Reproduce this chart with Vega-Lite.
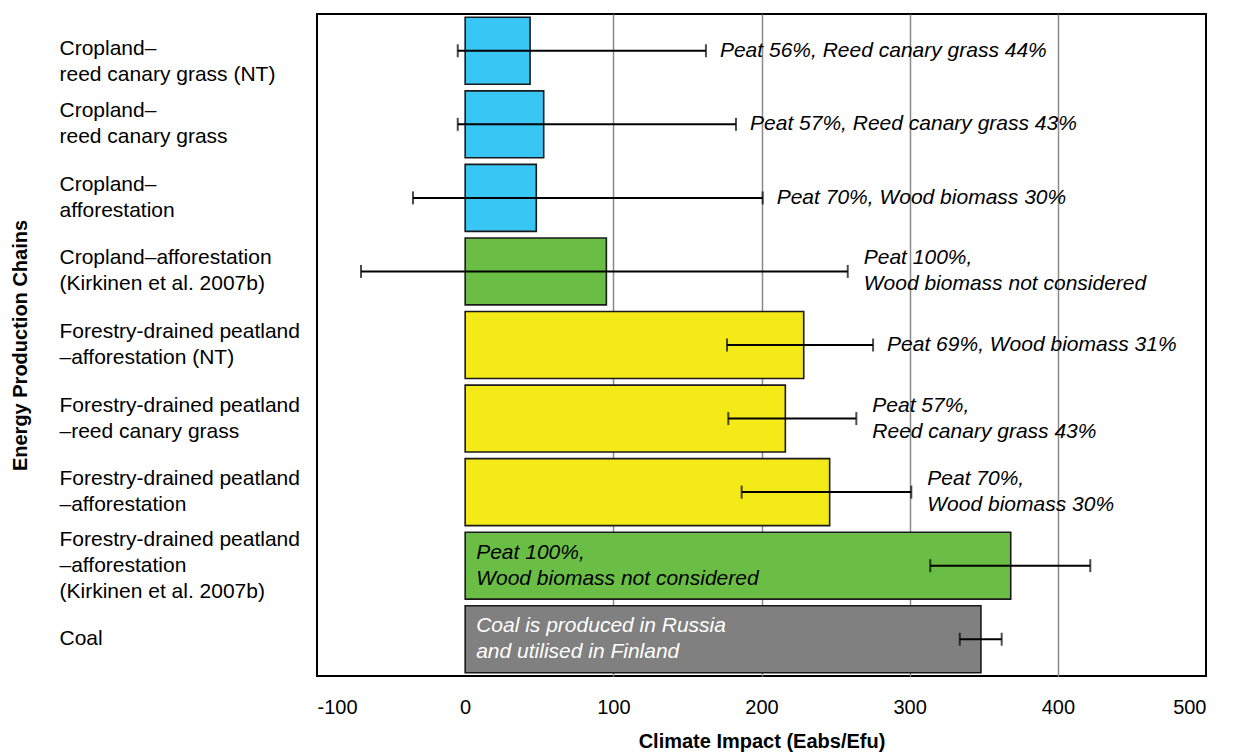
{
  "$schema": "https://vega.github.io/schema/vega-lite/v6.json",
  "width": 889,
  "height": 662,
  "autosize": {"type": "none"},
  "padding": {"left": 317, "top": 14, "right": 31, "bottom": 78},
  "background": "white",
  "config": {
    "font": "Liberation Sans",
    "view": {"stroke": "black", "strokeWidth": 2}
  },
  "data": {
    "values": [
      {"chain": "Cropland–\nreed canary grass (NT)", "group": "Cropland", "impact": 43.8, "lo": -5.0, "hi": 162.5, "note": "Peat 56%, Reed canary grass 44%"},
      {"chain": "Cropland–\nreed canary grass", "group": "Cropland", "impact": 53.0, "lo": -5.0, "hi": 182.8, "note": "Peat 57%, Reed canary grass 43%"},
      {"chain": "Cropland–\nafforestation", "group": "Cropland", "impact": 48.0, "lo": -35.2, "hi": 200.8, "note": "Peat 70%, Wood biomass 30%"},
      {"chain": "Cropland–afforestation\n(Kirkinen et al. 2007b)", "group": "Kirkinen et al. 2007b", "impact": 95.3, "lo": -70.3, "hi": 258.2, "note": "Peat 100%,\nWood biomass not considered"},
      {"chain": "Forestry-drained peatland\n–afforestation (NT)", "group": "Forestry-drained peatland", "impact": 228.5, "lo": 176.7, "hi": 275.3, "note": "Peat 69%, Wood biomass 31%"},
      {"chain": "Forestry-drained peatland\n–reed canary grass", "group": "Forestry-drained peatland", "impact": 216.1, "lo": 177.6, "hi": 264.0, "note": "Peat 57%,\nReed canary grass 43%"},
      {"chain": "Forestry-drained peatland\n–afforestation", "group": "Forestry-drained peatland", "impact": 246.0, "lo": 186.6, "hi": 301.1, "note": "Peat 70%,\nWood biomass 30%"},
      {"chain": "Forestry-drained peatland\n–afforestation\n(Kirkinen et al. 2007b)", "group": "Kirkinen et al. 2007b", "impact": 368.2, "lo": 313.9, "hi": 421.9, "inner": "Peat 100%,\nWood biomass not considered"},
      {"chain": "Coal", "group": "Coal", "impact": 348.1, "lo": 333.8, "hi": 362.1, "inner": "Coal is produced in Russia\nand utilised in Finland"}
    ]
  },
  "encoding": {
    "y": {
      "field": "chain",
      "type": "nominal",
      "sort": null,
      "scale": {"paddingInner": 0.09, "paddingOuter": 0.045},
      "axis": {
        "title": "Energy Production Chains",
        "titleFont": "Liberation Sans",
        "titleFontSize": 20,
        "titleFontWeight": "bold",
        "titleColor": "black",
        "titleAngle": -90,
        "titleX": -297,
        "titleY": 331,
        "titleAlign": "center",
        "titleBaseline": "middle",
        "labelAlign": "left",
        "labelBaseline": "middle",
        "labelPadding": 258,
        "labelFontSize": 21,
        "labelLineHeight": 26,
        "labelColor": "black",
        "labelLimit": 400,
        "labelExpr": "split(datum.label, '\\n')",
        "labelOffset": {
          "condition": [
            {"test": "indexof(datum.label, 'Cropland') == 0 && indexof(datum.label, '(NT)') > 0", "value": -2},
            {"test": "length(split(datum.label, '\\n')) == 3", "value": -26},
            {"test": "length(split(datum.label, '\\n')) == 2", "value": -13}
          ],
          "value": 0
        },
        "ticks": false,
        "tickSize": 0,
        "domain": false,
        "grid": false
      }
    }
  },
  "layer": [
    {
      "mark": {"type": "bar", "stroke": "#1a1a1a", "strokeWidth": 1.6},
      "encoding": {
        "x": {
          "field": "impact",
          "type": "quantitative",
          "scale": {"domain": [-100, 500], "nice": false, "zero": false},
          "axis": {
            "values": [-100, 0, 100, 200, 300, 400, 500],
            "labelExpr": "'' + datum.value",
            "title": "Climate Impact (Eabs/Efu)",
            "titleFontSize": 20,
            "titleFontWeight": "bold",
            "titleColor": "black",
            "titleBaseline": "middle",
            "titleY": 65,
            "labelFontSize": 20,
            "labelColor": "black",
            "labelBaseline": "middle",
            "labelPadding": 31,
            "ticks": false,
            "tickSize": 0,
            "domain": false,
            "grid": true,
            "gridWidth": 1.5,
            "gridColor": {"condition": {"test": "datum.value > 0 && datum.value < 500", "value": "#8a8a8a"}, "value": "transparent"}
          }
        },
        "x2": {"datum": 0},
        "color": {
          "field": "group",
          "type": "nominal",
          "scale": {
            "domain": ["Cropland", "Kirkinen et al. 2007b", "Forestry-drained peatland", "Coal"],
            "range": ["#38c6f4", "#6abd45", "#f4ea17", "#808080"]
          },
          "legend": null
        }
      }
    },
    {
      "mark": {"type": "rule", "color": "black", "strokeWidth": 2},
      "encoding": {
        "x": {"field": "lo", "type": "quantitative"},
        "x2": {"field": "hi"}
      }
    },
    {
      "mark": {"type": "tick", "color": "black", "thickness": 2, "size": 13},
      "encoding": {"x": {"field": "lo", "type": "quantitative"}}
    },
    {
      "mark": {"type": "tick", "color": "black", "thickness": 2, "size": 13},
      "encoding": {"x": {"field": "hi", "type": "quantitative"}}
    },
    {
      "transform": [{"filter": "isValid(datum.note) && indexof(datum.note, '\\n') < 0"}],
      "mark": {"type": "text", "align": "left", "baseline": "middle", "dx": 14, "fontSize": 21, "fontStyle": "italic", "color": "black"},
      "encoding": {
        "x": {"field": "hi", "type": "quantitative"},
        "text": {"field": "note"}
      }
    },
    {
      "transform": [{"filter": "isValid(datum.note) && indexof(datum.note, '\\n') >= 0"}],
      "mark": {"type": "text", "align": "left", "baseline": "middle", "dx": 16, "dy": -13, "fontSize": 21, "fontStyle": "italic", "lineBreak": "\n", "lineHeight": 26, "color": "black"},
      "encoding": {
        "x": {"field": "hi", "type": "quantitative"},
        "text": {"field": "note"}
      }
    },
    {
      "transform": [{"filter": "isValid(datum.inner)"}],
      "mark": {"type": "text", "align": "left", "baseline": "middle", "dx": 11, "dy": -13, "fontSize": 21, "fontStyle": "italic", "lineBreak": "\n", "lineHeight": 26},
      "encoding": {
        "x": {"datum": 0, "type": "quantitative"},
        "text": {"field": "inner"},
        "color": {"condition": {"test": "datum.group === 'Coal'", "value": "white"}, "value": "black"}
      }
    }
  ]
}
